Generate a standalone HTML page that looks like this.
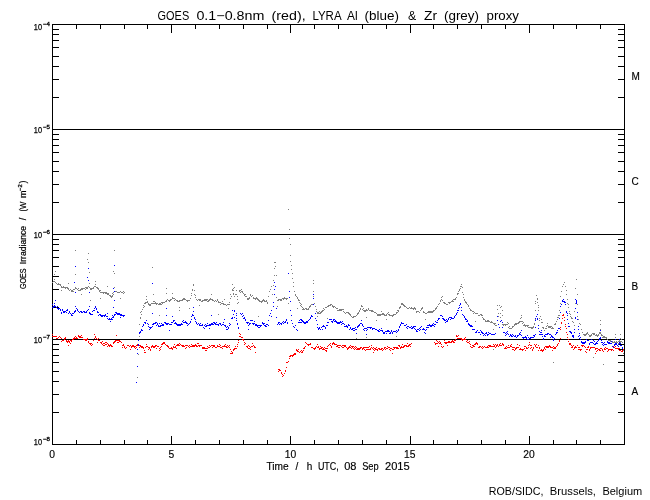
<!DOCTYPE html>
<html><head><meta charset="utf-8"><title>GOES / LYRA proxy</title>
<style>html,body{margin:0;padding:0;background:#fff;overflow:hidden}svg{display:block}</style></head>
<body>
<svg width="650" height="500" viewBox="0 0 650 500">
<rect width="650" height="500" fill="#fff"/>
<g stroke="#000" stroke-width="1" shape-rendering="crispEdges" fill="none">
<rect x="52.5" y="24.5" width="572" height="420"/>
<line x1="52" y1="129.5" x2="625" y2="129.5"/>
<line x1="52" y1="234.5" x2="625" y2="234.5"/>
<line x1="52" y1="339.5" x2="625" y2="339.5"/>
<line x1="52.5" y1="444" x2="52.5" y2="436"/>
<line x1="52.5" y1="24" x2="52.5" y2="33"/>
<line x1="76.5" y1="444" x2="76.5" y2="440"/>
<line x1="76.5" y1="24" x2="76.5" y2="29"/>
<line x1="100.5" y1="444" x2="100.5" y2="440"/>
<line x1="100.5" y1="24" x2="100.5" y2="29"/>
<line x1="124.5" y1="444" x2="124.5" y2="440"/>
<line x1="124.5" y1="24" x2="124.5" y2="29"/>
<line x1="147.5" y1="444" x2="147.5" y2="440"/>
<line x1="147.5" y1="24" x2="147.5" y2="29"/>
<line x1="171.5" y1="444" x2="171.5" y2="436"/>
<line x1="171.5" y1="24" x2="171.5" y2="33"/>
<line x1="195.5" y1="444" x2="195.5" y2="440"/>
<line x1="195.5" y1="24" x2="195.5" y2="29"/>
<line x1="219.5" y1="444" x2="219.5" y2="440"/>
<line x1="219.5" y1="24" x2="219.5" y2="29"/>
<line x1="243.5" y1="444" x2="243.5" y2="440"/>
<line x1="243.5" y1="24" x2="243.5" y2="29"/>
<line x1="267.5" y1="444" x2="267.5" y2="440"/>
<line x1="267.5" y1="24" x2="267.5" y2="29"/>
<line x1="290.5" y1="444" x2="290.5" y2="436"/>
<line x1="290.5" y1="24" x2="290.5" y2="33"/>
<line x1="314.5" y1="444" x2="314.5" y2="440"/>
<line x1="314.5" y1="24" x2="314.5" y2="29"/>
<line x1="338.5" y1="444" x2="338.5" y2="440"/>
<line x1="338.5" y1="24" x2="338.5" y2="29"/>
<line x1="362.5" y1="444" x2="362.5" y2="440"/>
<line x1="362.5" y1="24" x2="362.5" y2="29"/>
<line x1="386.5" y1="444" x2="386.5" y2="440"/>
<line x1="386.5" y1="24" x2="386.5" y2="29"/>
<line x1="410.5" y1="444" x2="410.5" y2="436"/>
<line x1="410.5" y1="24" x2="410.5" y2="33"/>
<line x1="433.5" y1="444" x2="433.5" y2="440"/>
<line x1="433.5" y1="24" x2="433.5" y2="29"/>
<line x1="457.5" y1="444" x2="457.5" y2="440"/>
<line x1="457.5" y1="24" x2="457.5" y2="29"/>
<line x1="481.5" y1="444" x2="481.5" y2="440"/>
<line x1="481.5" y1="24" x2="481.5" y2="29"/>
<line x1="505.5" y1="444" x2="505.5" y2="440"/>
<line x1="505.5" y1="24" x2="505.5" y2="29"/>
<line x1="529.5" y1="444" x2="529.5" y2="436"/>
<line x1="529.5" y1="24" x2="529.5" y2="33"/>
<line x1="553.5" y1="444" x2="553.5" y2="440"/>
<line x1="553.5" y1="24" x2="553.5" y2="29"/>
<line x1="576.5" y1="444" x2="576.5" y2="440"/>
<line x1="576.5" y1="24" x2="576.5" y2="29"/>
<line x1="600.5" y1="444" x2="600.5" y2="440"/>
<line x1="600.5" y1="24" x2="600.5" y2="29"/>
<line x1="624.5" y1="444" x2="624.5" y2="440"/>
<line x1="624.5" y1="24" x2="624.5" y2="29"/>
<line x1="52" y1="97.5" x2="59" y2="97.5"/>
<line x1="618" y1="97.5" x2="625" y2="97.5"/>
<line x1="52" y1="79.5" x2="59" y2="79.5"/>
<line x1="618" y1="79.5" x2="625" y2="79.5"/>
<line x1="52" y1="66.5" x2="59" y2="66.5"/>
<line x1="618" y1="66.5" x2="625" y2="66.5"/>
<line x1="52" y1="56.5" x2="59" y2="56.5"/>
<line x1="618" y1="56.5" x2="625" y2="56.5"/>
<line x1="52" y1="47.5" x2="59" y2="47.5"/>
<line x1="618" y1="47.5" x2="625" y2="47.5"/>
<line x1="52" y1="40.5" x2="59" y2="40.5"/>
<line x1="618" y1="40.5" x2="625" y2="40.5"/>
<line x1="52" y1="34.5" x2="59" y2="34.5"/>
<line x1="618" y1="34.5" x2="625" y2="34.5"/>
<line x1="52" y1="29.5" x2="59" y2="29.5"/>
<line x1="618" y1="29.5" x2="625" y2="29.5"/>
<line x1="52" y1="202.5" x2="59" y2="202.5"/>
<line x1="618" y1="202.5" x2="625" y2="202.5"/>
<line x1="52" y1="184.5" x2="59" y2="184.5"/>
<line x1="618" y1="184.5" x2="625" y2="184.5"/>
<line x1="52" y1="171.5" x2="59" y2="171.5"/>
<line x1="618" y1="171.5" x2="625" y2="171.5"/>
<line x1="52" y1="161.5" x2="59" y2="161.5"/>
<line x1="618" y1="161.5" x2="625" y2="161.5"/>
<line x1="52" y1="152.5" x2="59" y2="152.5"/>
<line x1="618" y1="152.5" x2="625" y2="152.5"/>
<line x1="52" y1="145.5" x2="59" y2="145.5"/>
<line x1="618" y1="145.5" x2="625" y2="145.5"/>
<line x1="52" y1="139.5" x2="59" y2="139.5"/>
<line x1="618" y1="139.5" x2="625" y2="139.5"/>
<line x1="52" y1="134.5" x2="59" y2="134.5"/>
<line x1="618" y1="134.5" x2="625" y2="134.5"/>
<line x1="52" y1="307.5" x2="59" y2="307.5"/>
<line x1="618" y1="307.5" x2="625" y2="307.5"/>
<line x1="52" y1="289.5" x2="59" y2="289.5"/>
<line x1="618" y1="289.5" x2="625" y2="289.5"/>
<line x1="52" y1="276.5" x2="59" y2="276.5"/>
<line x1="618" y1="276.5" x2="625" y2="276.5"/>
<line x1="52" y1="266.5" x2="59" y2="266.5"/>
<line x1="618" y1="266.5" x2="625" y2="266.5"/>
<line x1="52" y1="257.5" x2="59" y2="257.5"/>
<line x1="618" y1="257.5" x2="625" y2="257.5"/>
<line x1="52" y1="250.5" x2="59" y2="250.5"/>
<line x1="618" y1="250.5" x2="625" y2="250.5"/>
<line x1="52" y1="244.5" x2="59" y2="244.5"/>
<line x1="618" y1="244.5" x2="625" y2="244.5"/>
<line x1="52" y1="239.5" x2="59" y2="239.5"/>
<line x1="618" y1="239.5" x2="625" y2="239.5"/>
<line x1="52" y1="412.5" x2="59" y2="412.5"/>
<line x1="618" y1="412.5" x2="625" y2="412.5"/>
<line x1="52" y1="394.5" x2="59" y2="394.5"/>
<line x1="618" y1="394.5" x2="625" y2="394.5"/>
<line x1="52" y1="381.5" x2="59" y2="381.5"/>
<line x1="618" y1="381.5" x2="625" y2="381.5"/>
<line x1="52" y1="371.5" x2="59" y2="371.5"/>
<line x1="618" y1="371.5" x2="625" y2="371.5"/>
<line x1="52" y1="362.5" x2="59" y2="362.5"/>
<line x1="618" y1="362.5" x2="625" y2="362.5"/>
<line x1="52" y1="355.5" x2="59" y2="355.5"/>
<line x1="618" y1="355.5" x2="625" y2="355.5"/>
<line x1="52" y1="349.5" x2="59" y2="349.5"/>
<line x1="618" y1="349.5" x2="625" y2="349.5"/>
<line x1="52" y1="344.5" x2="59" y2="344.5"/>
<line x1="618" y1="344.5" x2="625" y2="344.5"/>
</g>
<g shape-rendering="crispEdges" stroke="none">
<path fill="#7f7f7f" d="M288 209h1v1h-1zM289 229h1v1h-1zM289 238h1v1h-1zM290 244h1v1h-1zM75 250h1v1h-1zM114 250h1v1h-1zM88 253h1v1h-1zM290 255h1v1h-1zM87 259h1v1h-1zM290 261h1v1h-1zM88 262h1v1h-1zM274 262h2v1h-2zM291 265h1v1h-1zM275 266h1v1h-1zM152 267h1v1h-1zM274 268h1v1h-1zM291 269h1v1h-1zM55 271h1v1h-1zM113 271h1v1h-1zM89 272h1v1h-1zM114 273h1v1h-1zM292 273h1v1h-1zM54 274h1v1h-1zM75 274h1v1h-1zM274 275h1v1h-1zM276 275h1v1h-1zM292 278h1v1h-1zM54 279h1v1h-1zM576 279h1v1h-1zM273 280h1v1h-1zM313 280h1v1h-1zM53 281h2v1h-2zM95 281h1v1h-1zM52 282h1v1h-1zM55 282h1v1h-1zM293 282h1v1h-1zM564 282h1v1h-1zM56 283h1v1h-1zM58 283h1v1h-1zM68 283h1v1h-1zM89 283h1v1h-1zM313 283h1v1h-1zM57 284h4v1h-4zM95 284h1v1h-1zM193 284h1v1h-1zM232 284h1v1h-1zM461 284h1v1h-1zM563 284h1v1h-1zM60 285h1v1h-1zM193 285h1v1h-1zM273 285h1v1h-1zM61 286h1v1h-1zM63 286h1v1h-1zM88 286h1v1h-1zM94 286h2v1h-2zM107 286h1v1h-1zM271 286h1v1h-1zM293 286h1v1h-1zM460 286h2v1h-2zM562 286h1v1h-1zM565 286h1v1h-1zM61 287h7v1h-7zM75 287h1v1h-1zM85 287h3v1h-3zM89 287h1v1h-1zM93 287h1v1h-1zM96 287h2v1h-2zM114 287h1v1h-1zM234 287h1v1h-1zM462 287h1v1h-1zM65 288h1v1h-1zM67 288h2v1h-2zM75 288h2v1h-2zM78 288h1v1h-1zM81 288h4v1h-4zM86 288h2v1h-2zM90 288h4v1h-4zM97 288h2v1h-2zM166 288h1v1h-1zM233 288h1v1h-1zM460 288h1v1h-1zM575 288h1v1h-1zM68 289h1v1h-1zM70 289h1v1h-1zM73 289h2v1h-2zM77 289h1v1h-1zM80 289h3v1h-3zM85 289h1v1h-1zM90 289h2v1h-2zM98 289h1v1h-1zM192 289h1v1h-1zM232 289h1v1h-1zM241 289h1v1h-1zM270 289h1v1h-1zM459 289h1v1h-1zM61 290h1v1h-1zM69 290h1v1h-1zM71 290h2v1h-2zM78 290h3v1h-3zM99 290h2v1h-2zM192 290h1v1h-1zM194 290h1v1h-1zM232 290h2v1h-2zM236 290h1v1h-1zM239 290h2v1h-2zM459 290h1v1h-1zM566 290h1v1h-1zM71 291h3v1h-3zM99 291h1v1h-1zM114 291h3v1h-3zM120 291h1v1h-1zM123 291h1v1h-1zM239 291h1v1h-1zM241 291h2v1h-2zM269 291h1v1h-1zM294 291h1v1h-1zM313 291h1v1h-1zM458 291h1v1h-1zM561 291h1v1h-1zM100 292h7v1h-7zM113 292h1v1h-1zM117 292h3v1h-3zM121 292h2v1h-2zM124 292h1v1h-1zM240 292h1v1h-1zM242 292h1v1h-1zM462 292h1v1h-1zM103 293h1v1h-1zM105 293h4v1h-4zM112 293h1v1h-1zM123 293h1v1h-1zM166 293h1v1h-1zM172 293h1v1h-1zM191 293h1v1h-1zM233 293h1v1h-1zM243 293h1v1h-1zM457 293h2v1h-2zM81 294h1v1h-1zM107 294h2v1h-2zM113 294h1v1h-1zM153 294h1v1h-1zM194 294h1v1h-1zM211 294h1v1h-1zM230 294h1v1h-1zM233 294h1v1h-1zM235 294h2v1h-2zM244 294h2v1h-2zM250 294h1v1h-1zM272 294h1v1h-1zM295 294h1v1h-1zM457 294h1v1h-1zM463 294h1v1h-1zM566 294h1v1h-1zM577 294h1v1h-1zM109 295h2v1h-2zM112 295h1v1h-1zM191 295h1v1h-1zM195 295h1v1h-1zM244 295h1v1h-1zM250 295h1v1h-1zM252 295h1v1h-1zM295 295h1v1h-1zM536 295h1v1h-1zM110 296h3v1h-3zM146 296h1v1h-1zM231 296h1v1h-1zM234 296h1v1h-1zM237 296h1v1h-1zM245 296h2v1h-2zM251 296h1v1h-1zM268 296h1v1h-1zM296 296h1v1h-1zM313 296h1v1h-1zM442 296h1v1h-1zM560 296h1v1h-1zM111 297h1v1h-1zM172 297h1v1h-1zM195 297h1v1h-1zM249 297h1v1h-1zM253 297h1v1h-1zM256 297h1v1h-1zM276 297h1v1h-1zM284 297h1v1h-1zM297 297h1v1h-1zM441 297h1v1h-1zM456 297h1v1h-1zM463 297h1v1h-1zM100 298h1v1h-1zM120 298h1v1h-1zM172 298h3v1h-3zM183 298h2v1h-2zM190 298h1v1h-1zM210 298h1v1h-1zM230 298h1v1h-1zM247 298h3v1h-3zM253 298h5v1h-5zM282 298h6v1h-6zM297 298h1v1h-1zM455 298h1v1h-1zM537 298h1v1h-1zM146 299h1v1h-1zM167 299h1v1h-1zM170 299h2v1h-2zM175 299h1v1h-1zM182 299h4v1h-4zM196 299h1v1h-1zM198 299h3v1h-3zM204 299h4v1h-4zM209 299h4v1h-4zM217 299h1v1h-1zM224 299h1v1h-1zM237 299h1v1h-1zM247 299h2v1h-2zM255 299h1v1h-1zM257 299h2v1h-2zM263 299h1v1h-1zM278 299h4v1h-4zM283 299h1v1h-1zM286 299h1v1h-1zM298 299h1v1h-1zM441 299h1v1h-1zM453 299h3v1h-3zM464 299h1v1h-1zM537 299h1v1h-1zM567 299h1v1h-1zM90 300h1v1h-1zM166 300h1v1h-1zM168 300h3v1h-3zM174 300h1v1h-1zM176 300h2v1h-2zM179 300h4v1h-4zM186 300h4v1h-4zM197 300h1v1h-1zM199 300h2v1h-2zM202 300h5v1h-5zM208 300h2v1h-2zM212 300h2v1h-2zM215 300h1v1h-1zM217 300h1v1h-1zM258 300h2v1h-2zM262 300h3v1h-3zM266 300h1v1h-1zM277 300h2v1h-2zM280 300h2v1h-2zM298 300h2v1h-2zM440 300h1v1h-1zM442 300h1v1h-1zM452 300h1v1h-1zM464 300h1v1h-1zM147 301h1v1h-1zM153 301h2v1h-2zM165 301h2v1h-2zM169 301h1v1h-1zM177 301h3v1h-3zM187 301h1v1h-1zM201 301h2v1h-2zM207 301h2v1h-2zM214 301h1v1h-1zM216 301h1v1h-1zM218 301h1v1h-1zM222 301h1v1h-1zM259 301h4v1h-4zM264 301h3v1h-3zM440 301h1v1h-1zM451 301h3v1h-3zM465 301h1v1h-1zM535 301h1v1h-1zM145 302h3v1h-3zM155 302h1v1h-1zM161 302h4v1h-4zM218 302h3v1h-3zM229 302h1v1h-1zM238 302h1v1h-1zM261 302h1v1h-1zM267 302h1v1h-1zM299 302h1v1h-1zM443 302h2v1h-2zM448 302h3v1h-3zM465 302h2v1h-2zM537 302h1v1h-1zM144 303h2v1h-2zM148 303h1v1h-1zM151 303h7v1h-7zM159 303h2v1h-2zM162 303h1v1h-1zM221 303h3v1h-3zM237 303h1v1h-1zM267 303h1v1h-1zM288 303h1v1h-1zM300 303h1v1h-1zM314 303h1v1h-1zM401 303h2v1h-2zM439 303h1v1h-1zM444 303h2v1h-2zM449 303h1v1h-1zM466 303h1v1h-1zM535 303h1v1h-1zM560 303h1v1h-1zM567 303h1v1h-1zM575 303h1v1h-1zM148 304h3v1h-3zM156 304h1v1h-1zM158 304h4v1h-4zM220 304h1v1h-1zM223 304h3v1h-3zM227 304h3v1h-3zM301 304h1v1h-1zM311 304h2v1h-2zM330 304h2v1h-2zM401 304h3v1h-3zM438 304h1v1h-1zM446 304h2v1h-2zM467 304h1v1h-1zM568 304h1v1h-1zM577 304h1v1h-1zM143 305h1v1h-1zM149 305h2v1h-2zM199 305h1v1h-1zM226 305h1v1h-1zM300 305h1v1h-1zM310 305h1v1h-1zM328 305h3v1h-3zM332 305h1v1h-1zM361 305h1v1h-1zM403 305h2v1h-2zM468 305h1v1h-1zM497 305h1v1h-1zM499 305h1v1h-1zM538 305h1v1h-1zM144 306h1v1h-1zM277 306h1v1h-1zM301 306h1v1h-1zM309 306h2v1h-2zM315 306h1v1h-1zM327 306h2v1h-2zM332 306h3v1h-3zM361 306h2v1h-2zM400 306h1v1h-1zM404 306h2v1h-2zM437 306h1v1h-1zM468 306h1v1h-1zM501 306h1v1h-1zM143 307h1v1h-1zM179 307h1v1h-1zM302 307h1v1h-1zM309 307h1v1h-1zM325 307h2v1h-2zM333 307h1v1h-1zM335 307h1v1h-1zM399 307h2v1h-2zM406 307h1v1h-1zM409 307h1v1h-1zM411 307h1v1h-1zM414 307h1v1h-1zM422 307h1v1h-1zM436 307h1v1h-1zM500 307h1v1h-1zM538 307h1v1h-1zM568 307h1v1h-1zM189 308h1v1h-1zM228 308h1v1h-1zM297 308h1v1h-1zM303 308h1v1h-1zM305 308h2v1h-2zM308 308h1v1h-1zM323 308h1v1h-1zM336 308h2v1h-2zM360 308h1v1h-1zM363 308h1v1h-1zM368 308h1v1h-1zM399 308h1v1h-1zM407 308h2v1h-2zM410 308h6v1h-6zM421 308h2v1h-2zM435 308h2v1h-2zM469 308h1v1h-1zM142 309h1v1h-1zM302 309h3v1h-3zM306 309h3v1h-3zM316 309h1v1h-1zM324 309h1v1h-1zM339 309h5v1h-5zM360 309h1v1h-1zM362 309h1v1h-1zM366 309h1v1h-1zM368 309h1v1h-1zM413 309h1v1h-1zM415 309h1v1h-1zM421 309h1v1h-1zM435 309h1v1h-1zM470 309h1v1h-1zM497 309h1v1h-1zM179 310h1v1h-1zM322 310h2v1h-2zM337 310h5v1h-5zM359 310h1v1h-1zM363 310h5v1h-5zM369 310h4v1h-4zM397 310h2v1h-2zM420 310h1v1h-1zM433 310h2v1h-2zM470 310h2v1h-2zM502 310h1v1h-1zM535 310h1v1h-1zM538 310h1v1h-1zM559 310h1v1h-1zM141 311h1v1h-1zM316 311h1v1h-1zM319 311h1v1h-1zM321 311h2v1h-2zM343 311h1v1h-1zM359 311h1v1h-1zM364 311h2v1h-2zM371 311h3v1h-3zM381 311h1v1h-1zM398 311h1v1h-1zM416 311h3v1h-3zM423 311h1v1h-1zM428 311h6v1h-6zM472 311h2v1h-2zM569 311h1v1h-1zM574 311h1v1h-1zM140 312h1v1h-1zM317 312h2v1h-2zM320 312h2v1h-2zM344 312h1v1h-1zM346 312h3v1h-3zM358 312h1v1h-1zM374 312h2v1h-2zM388 312h1v1h-1zM396 312h2v1h-2zM416 312h1v1h-1zM419 312h1v1h-1zM423 312h2v1h-2zM427 312h6v1h-6zM474 312h1v1h-1zM317 313h4v1h-4zM345 313h1v1h-1zM348 313h2v1h-2zM357 313h2v1h-2zM376 313h1v1h-1zM382 313h2v1h-2zM387 313h1v1h-1zM396 313h1v1h-1zM425 313h2v1h-2zM473 313h1v1h-1zM475 313h3v1h-3zM498 313h1v1h-1zM500 313h1v1h-1zM569 313h1v1h-1zM141 314h1v1h-1zM218 314h1v1h-1zM349 314h2v1h-2zM357 314h1v1h-1zM377 314h8v1h-8zM386 314h1v1h-1zM388 314h2v1h-2zM393 314h3v1h-3zM480 314h2v1h-2zM570 314h1v1h-1zM159 315h1v1h-1zM350 315h1v1h-1zM356 315h1v1h-1zM377 315h4v1h-4zM384 315h3v1h-3zM389 315h5v1h-5zM478 315h2v1h-2zM481 315h2v1h-2zM502 315h1v1h-1zM521 315h1v1h-1zM558 315h2v1h-2zM258 316h1v1h-1zM317 316h1v1h-1zM351 316h1v1h-1zM353 316h3v1h-3zM392 316h1v1h-1zM498 316h1v1h-1zM540 316h1v1h-1zM570 316h1v1h-1zM577 316h1v1h-1zM140 317h1v1h-1zM352 317h2v1h-2zM366 317h1v1h-1zM482 317h1v1h-1zM500 317h1v1h-1zM521 317h1v1h-1zM557 317h2v1h-2zM571 317h1v1h-1zM140 318h1v1h-1zM327 318h1v1h-1zM483 318h1v1h-1zM520 318h1v1h-1zM539 318h1v1h-1zM571 318h2v1h-2zM386 319h1v1h-1zM425 319h1v1h-1zM483 319h2v1h-2zM535 319h1v1h-1zM541 319h1v1h-1zM557 319h1v1h-1zM578 319h1v1h-1zM376 320h1v1h-1zM485 320h1v1h-1zM487 320h2v1h-2zM539 320h1v1h-1zM600 320h1v1h-1zM475 321h1v1h-1zM485 321h5v1h-5zM491 321h1v1h-1zM519 321h4v1h-4zM556 321h1v1h-1zM572 321h1v1h-1zM490 322h3v1h-3zM507 322h1v1h-1zM518 322h2v1h-2zM523 322h1v1h-1zM541 322h2v1h-2zM573 322h1v1h-1zM493 323h3v1h-3zM508 323h1v1h-1zM515 323h4v1h-4zM522 323h1v1h-1zM534 323h1v1h-1zM547 323h1v1h-1zM555 323h1v1h-1zM579 323h1v1h-1zM139 324h1v1h-1zM494 324h1v1h-1zM502 324h6v1h-6zM514 324h3v1h-3zM524 324h1v1h-1zM534 324h1v1h-1zM554 324h2v1h-2zM580 324h1v1h-1zM600 324h1v1h-1zM495 325h2v1h-2zM503 325h1v1h-1zM505 325h1v1h-1zM514 325h1v1h-1zM523 325h6v1h-6zM547 325h1v1h-1zM574 325h1v1h-1zM509 326h1v1h-1zM512 326h2v1h-2zM525 326h1v1h-1zM527 326h1v1h-1zM533 326h1v1h-1zM546 326h1v1h-1zM548 326h4v1h-4zM508 327h1v1h-1zM512 327h1v1h-1zM528 327h6v1h-6zM542 327h2v1h-2zM548 327h3v1h-3zM552 327h1v1h-1zM509 328h3v1h-3zM531 328h2v1h-2zM543 328h1v1h-1zM545 328h2v1h-2zM551 328h3v1h-3zM493 329h1v1h-1zM581 329h1v1h-1zM600 329h1v1h-1zM544 330h1v1h-1zM582 332h1v1h-1zM587 332h1v1h-1zM599 332h2v1h-2zM586 333h2v1h-2zM592 333h3v1h-3zM599 333h2v1h-2zM583 334h4v1h-4zM588 334h1v1h-1zM591 334h1v1h-1zM593 334h2v1h-2zM596 334h1v1h-1zM598 334h1v1h-1zM601 334h1v1h-1zM615 334h1v1h-1zM620 334h1v1h-1zM584 335h2v1h-2zM589 335h3v1h-3zM595 335h4v1h-4zM601 335h2v1h-2zM139 336h1v1h-1zM396 336h1v1h-1zM589 336h2v1h-2zM597 336h1v1h-1zM603 336h2v1h-2zM366 337h1v1h-1zM602 337h5v1h-5zM615 337h1v1h-1zM356 338h1v1h-1zM606 338h1v1h-1zM620 338h1v1h-1zM607 339h1v1h-1zM621 339h1v1h-1zM608 340h3v1h-3zM619 340h1v1h-1zM610 341h3v1h-3zM614 341h1v1h-1zM616 341h1v1h-1zM618 341h4v1h-4zM612 342h6v1h-6zM620 342h1v1h-1zM622 342h1v1h-1zM618 343h1v1h-1zM622 348h1v1h-1zM493 349h1v1h-1zM623 350h1v1h-1zM623 353h1v1h-1zM138 354h1v1h-1zM593 357h1v1h-1zM553 362h1v1h-1zM603 364h1v1h-1zM137 377h1v1h-1z"/>
<path fill="#ff0000" d="M563 314h1v1h-1zM562 315h2v1h-2zM564 317h1v1h-1zM562 318h1v1h-1zM564 320h1v1h-1zM561 322h1v1h-1zM561 323h1v1h-1zM565 324h1v1h-1zM565 326h1v1h-1zM560 327h1v1h-1zM566 328h1v1h-1zM560 329h1v1h-1zM566 332h1v1h-1zM239 333h1v1h-1zM52 334h1v1h-1zM94 334h1v1h-1zM240 334h1v1h-1zM567 334h1v1h-1zM78 335h1v1h-1zM81 335h1v1h-1zM116 335h1v1h-1zM456 335h1v1h-1zM458 335h1v1h-1zM52 336h5v1h-5zM59 336h1v1h-1zM75 336h1v1h-1zM78 336h3v1h-3zM95 336h1v1h-1zM239 336h2v1h-2zM456 336h2v1h-2zM58 337h1v1h-1zM60 337h1v1h-1zM65 337h1v1h-1zM74 337h1v1h-1zM76 337h1v1h-1zM79 337h4v1h-4zM95 337h1v1h-1zM241 337h2v1h-2zM465 337h1v1h-1zM567 337h1v1h-1zM56 338h2v1h-2zM61 338h1v1h-1zM64 338h2v1h-2zM73 338h5v1h-5zM87 338h1v1h-1zM94 338h1v1h-1zM96 338h1v1h-1zM98 338h1v1h-1zM457 338h5v1h-5zM464 338h1v1h-1zM560 338h1v1h-1zM64 339h1v1h-1zM72 339h2v1h-2zM83 339h5v1h-5zM97 339h1v1h-1zM242 339h2v1h-2zM455 339h1v1h-1zM461 339h5v1h-5zM568 339h1v1h-1zM62 340h2v1h-2zM66 340h1v1h-1zM68 340h1v1h-1zM70 340h2v1h-2zM85 340h2v1h-2zM93 340h1v1h-1zM98 340h2v1h-2zM115 340h5v1h-5zM238 340h1v1h-1zM243 340h1v1h-1zM436 340h1v1h-1zM444 340h1v1h-1zM452 340h1v1h-1zM454 340h2v1h-2zM462 340h1v1h-1zM467 340h1v1h-1zM559 340h1v1h-1zM61 341h1v1h-1zM66 341h4v1h-4zM71 341h1v1h-1zM88 341h1v1h-1zM102 341h1v1h-1zM114 341h2v1h-2zM119 341h2v1h-2zM437 341h1v1h-1zM439 341h1v1h-1zM448 341h2v1h-2zM451 341h3v1h-3zM466 341h1v1h-1zM469 341h1v1h-1zM559 341h1v1h-1zM568 341h1v1h-1zM67 342h1v1h-1zM69 342h1v1h-1zM88 342h1v1h-1zM97 342h1v1h-1zM100 342h2v1h-2zM105 342h2v1h-2zM113 342h2v1h-2zM117 342h2v1h-2zM121 342h1v1h-1zM163 342h2v1h-2zM238 342h1v1h-1zM244 342h1v1h-1zM305 342h1v1h-1zM333 342h1v1h-1zM434 342h1v1h-1zM438 342h1v1h-1zM440 342h1v1h-1zM444 342h8v1h-8zM453 342h2v1h-2zM467 342h2v1h-2zM476 342h1v1h-1zM529 342h1v1h-1zM70 343h1v1h-1zM89 343h3v1h-3zM101 343h1v1h-1zM103 343h2v1h-2zM107 343h1v1h-1zM113 343h1v1h-1zM162 343h3v1h-3zM179 343h1v1h-1zM197 343h2v1h-2zM245 343h1v1h-1zM252 343h1v1h-1zM306 343h1v1h-1zM310 343h1v1h-1zM330 343h1v1h-1zM332 343h3v1h-3zM407 343h1v1h-1zM411 343h1v1h-1zM435 343h3v1h-3zM439 343h2v1h-2zM445 343h2v1h-2zM469 343h1v1h-1zM475 343h3v1h-3zM500 343h1v1h-1zM502 343h1v1h-1zM558 343h1v1h-1zM569 343h2v1h-2zM90 344h1v1h-1zM92 344h1v1h-1zM102 344h1v1h-1zM105 344h2v1h-2zM108 344h1v1h-1zM110 344h1v1h-1zM123 344h1v1h-1zM137 344h1v1h-1zM146 344h1v1h-1zM161 344h2v1h-2zM165 344h1v1h-1zM174 344h1v1h-1zM177 344h2v1h-2zM180 344h1v1h-1zM191 344h1v1h-1zM195 344h1v1h-1zM219 344h1v1h-1zM225 344h1v1h-1zM237 344h1v1h-1zM244 344h1v1h-1zM307 344h4v1h-4zM317 344h1v1h-1zM329 344h1v1h-1zM332 344h1v1h-1zM334 344h3v1h-3zM402 344h1v1h-1zM409 344h2v1h-2zM435 344h1v1h-1zM441 344h1v1h-1zM470 344h1v1h-1zM474 344h2v1h-2zM477 344h1v1h-1zM493 344h1v1h-1zM495 344h1v1h-1zM497 344h1v1h-1zM499 344h1v1h-1zM502 344h2v1h-2zM511 344h1v1h-1zM517 344h1v1h-1zM529 344h1v1h-1zM534 344h1v1h-1zM536 344h1v1h-1zM557 344h1v1h-1zM569 344h2v1h-2zM68 345h1v1h-1zM91 345h1v1h-1zM103 345h2v1h-2zM108 345h4v1h-4zM122 345h2v1h-2zM127 345h2v1h-2zM130 345h1v1h-1zM132 345h2v1h-2zM136 345h5v1h-5zM152 345h1v1h-1zM155 345h2v1h-2zM166 345h2v1h-2zM176 345h4v1h-4zM181 345h3v1h-3zM185 345h3v1h-3zM189 345h1v1h-1zM192 345h5v1h-5zM198 345h4v1h-4zM209 345h1v1h-1zM211 345h4v1h-4zM217 345h1v1h-1zM220 345h1v1h-1zM224 345h1v1h-1zM227 345h1v1h-1zM229 345h1v1h-1zM248 345h1v1h-1zM253 345h1v1h-1zM308 345h1v1h-1zM328 345h1v1h-1zM330 345h1v1h-1zM337 345h4v1h-4zM342 345h4v1h-4zM350 345h1v1h-1zM371 345h1v1h-1zM398 345h2v1h-2zM404 345h3v1h-3zM408 345h2v1h-2zM447 345h1v1h-1zM472 345h2v1h-2zM488 345h3v1h-3zM494 345h1v1h-1zM496 345h2v1h-2zM499 345h3v1h-3zM503 345h1v1h-1zM508 345h1v1h-1zM510 345h1v1h-1zM519 345h1v1h-1zM528 345h1v1h-1zM530 345h2v1h-2zM535 345h1v1h-1zM538 345h1v1h-1zM549 345h1v1h-1zM557 345h1v1h-1zM571 345h1v1h-1zM573 345h1v1h-1zM577 345h1v1h-1zM581 345h3v1h-3zM107 346h1v1h-1zM109 346h1v1h-1zM111 346h2v1h-2zM124 346h1v1h-1zM129 346h1v1h-1zM131 346h5v1h-5zM140 346h3v1h-3zM146 346h2v1h-2zM151 346h5v1h-5zM157 346h2v1h-2zM161 346h1v1h-1zM167 346h2v1h-2zM173 346h1v1h-1zM175 346h1v1h-1zM182 346h3v1h-3zM188 346h1v1h-1zM190 346h5v1h-5zM196 346h2v1h-2zM199 346h1v1h-1zM207 346h1v1h-1zM210 346h1v1h-1zM213 346h2v1h-2zM217 346h3v1h-3zM222 346h5v1h-5zM228 346h1v1h-1zM235 346h1v1h-1zM237 346h1v1h-1zM246 346h2v1h-2zM249 346h1v1h-1zM251 346h2v1h-2zM254 346h1v1h-1zM305 346h1v1h-1zM316 346h1v1h-1zM318 346h1v1h-1zM320 346h1v1h-1zM327 346h1v1h-1zM331 346h1v1h-1zM336 346h2v1h-2zM341 346h1v1h-1zM344 346h2v1h-2zM349 346h1v1h-1zM351 346h3v1h-3zM355 346h1v1h-1zM369 346h1v1h-1zM387 346h1v1h-1zM399 346h1v1h-1zM401 346h1v1h-1zM403 346h2v1h-2zM406 346h3v1h-3zM410 346h1v1h-1zM438 346h1v1h-1zM441 346h1v1h-1zM443 346h1v1h-1zM470 346h1v1h-1zM473 346h2v1h-2zM479 346h2v1h-2zM482 346h1v1h-1zM484 346h1v1h-1zM487 346h1v1h-1zM489 346h6v1h-6zM496 346h1v1h-1zM498 346h1v1h-1zM506 346h1v1h-1zM510 346h2v1h-2zM524 346h2v1h-2zM535 346h1v1h-1zM545 346h6v1h-6zM553 346h1v1h-1zM556 346h1v1h-1zM572 346h1v1h-1zM575 346h1v1h-1zM582 346h1v1h-1zM584 346h1v1h-1zM588 346h1v1h-1zM613 346h1v1h-1zM615 346h1v1h-1zM122 347h1v1h-1zM124 347h1v1h-1zM126 347h1v1h-1zM131 347h1v1h-1zM134 347h1v1h-1zM136 347h1v1h-1zM139 347h1v1h-1zM141 347h3v1h-3zM145 347h1v1h-1zM148 347h2v1h-2zM151 347h1v1h-1zM153 347h2v1h-2zM160 347h1v1h-1zM168 347h1v1h-1zM171 347h1v1h-1zM173 347h3v1h-3zM186 347h1v1h-1zM189 347h1v1h-1zM202 347h3v1h-3zM208 347h2v1h-2zM212 347h1v1h-1zM215 347h2v1h-2zM220 347h2v1h-2zM226 347h2v1h-2zM229 347h1v1h-1zM247 347h1v1h-1zM250 347h1v1h-1zM254 347h2v1h-2zM304 347h1v1h-1zM311 347h2v1h-2zM315 347h1v1h-1zM317 347h2v1h-2zM321 347h2v1h-2zM324 347h1v1h-1zM331 347h1v1h-1zM338 347h2v1h-2zM342 347h2v1h-2zM346 347h1v1h-1zM348 347h3v1h-3zM352 347h1v1h-1zM354 347h1v1h-1zM356 347h1v1h-1zM360 347h2v1h-2zM363 347h6v1h-6zM371 347h1v1h-1zM373 347h1v1h-1zM376 347h1v1h-1zM384 347h2v1h-2zM388 347h2v1h-2zM393 347h5v1h-5zM400 347h4v1h-4zM442 347h1v1h-1zM471 347h2v1h-2zM478 347h2v1h-2zM481 347h1v1h-1zM483 347h1v1h-1zM485 347h4v1h-4zM495 347h1v1h-1zM505 347h1v1h-1zM507 347h3v1h-3zM512 347h3v1h-3zM516 347h3v1h-3zM526 347h1v1h-1zM528 347h1v1h-1zM531 347h1v1h-1zM533 347h1v1h-1zM536 347h2v1h-2zM539 347h1v1h-1zM544 347h1v1h-1zM546 347h3v1h-3zM550 347h3v1h-3zM554 347h2v1h-2zM571 347h2v1h-2zM574 347h3v1h-3zM578 347h2v1h-2zM585 347h1v1h-1zM587 347h2v1h-2zM590 347h5v1h-5zM605 347h1v1h-1zM614 347h1v1h-1zM125 348h1v1h-1zM135 348h1v1h-1zM143 348h1v1h-1zM149 348h1v1h-1zM156 348h1v1h-1zM159 348h1v1h-1zM169 348h4v1h-4zM176 348h1v1h-1zM185 348h1v1h-1zM202 348h6v1h-6zM222 348h1v1h-1zM234 348h3v1h-3zM248 348h2v1h-2zM303 348h2v1h-2zM313 348h3v1h-3zM319 348h3v1h-3zM323 348h1v1h-1zM325 348h3v1h-3zM347 348h2v1h-2zM351 348h1v1h-1zM353 348h1v1h-1zM355 348h1v1h-1zM357 348h4v1h-4zM362 348h2v1h-2zM370 348h1v1h-1zM372 348h1v1h-1zM374 348h2v1h-2zM378 348h2v1h-2zM381 348h2v1h-2zM384 348h1v1h-1zM386 348h2v1h-2zM390 348h2v1h-2zM394 348h1v1h-1zM396 348h3v1h-3zM400 348h1v1h-1zM482 348h1v1h-1zM504 348h3v1h-3zM515 348h2v1h-2zM520 348h1v1h-1zM524 348h1v1h-1zM526 348h2v1h-2zM530 348h1v1h-1zM533 348h1v1h-1zM539 348h1v1h-1zM544 348h1v1h-1zM553 348h3v1h-3zM574 348h1v1h-1zM590 348h1v1h-1zM595 348h3v1h-3zM600 348h2v1h-2zM604 348h1v1h-1zM606 348h2v1h-2zM615 348h5v1h-5zM130 349h1v1h-1zM148 349h1v1h-1zM150 349h1v1h-1zM160 349h1v1h-1zM172 349h1v1h-1zM230 349h1v1h-1zM233 349h2v1h-2zM250 349h1v1h-1zM296 349h1v1h-1zM298 349h1v1h-1zM314 349h1v1h-1zM319 349h1v1h-1zM322 349h3v1h-3zM347 349h1v1h-1zM354 349h1v1h-1zM356 349h4v1h-4zM362 349h1v1h-1zM364 349h1v1h-1zM366 349h5v1h-5zM373 349h1v1h-1zM375 349h3v1h-3zM379 349h3v1h-3zM383 349h1v1h-1zM385 349h1v1h-1zM389 349h1v1h-1zM392 349h2v1h-2zM512 349h2v1h-2zM515 349h1v1h-1zM519 349h5v1h-5zM532 349h1v1h-1zM541 349h1v1h-1zM543 349h1v1h-1zM545 349h1v1h-1zM573 349h1v1h-1zM578 349h4v1h-4zM586 349h2v1h-2zM589 349h1v1h-1zM595 349h1v1h-1zM598 349h2v1h-2zM602 349h1v1h-1zM604 349h2v1h-2zM608 349h5v1h-5zM618 349h1v1h-1zM623 349h1v1h-1zM144 350h1v1h-1zM150 350h1v1h-1zM159 350h1v1h-1zM205 350h2v1h-2zM233 350h1v1h-1zM296 350h2v1h-2zM301 350h1v1h-1zM303 350h1v1h-1zM325 350h2v1h-2zM365 350h1v1h-1zM374 350h1v1h-1zM377 350h1v1h-1zM382 350h1v1h-1zM390 350h1v1h-1zM514 350h1v1h-1zM522 350h1v1h-1zM525 350h1v1h-1zM532 350h1v1h-1zM538 350h1v1h-1zM540 350h4v1h-4zM552 350h1v1h-1zM580 350h1v1h-1zM589 350h1v1h-1zM597 350h1v1h-1zM599 350h2v1h-2zM602 350h1v1h-1zM608 350h1v1h-1zM611 350h1v1h-1zM613 350h1v1h-1zM619 350h2v1h-2zM622 350h1v1h-1zM231 351h1v1h-1zM297 351h2v1h-2zM300 351h1v1h-1zM302 351h1v1h-1zM326 351h1v1h-1zM542 351h1v1h-1zM585 351h1v1h-1zM596 351h1v1h-1zM603 351h1v1h-1zM607 351h1v1h-1zM621 351h2v1h-2zM144 352h2v1h-2zM232 352h1v1h-1zM255 352h1v1h-1zM299 352h1v1h-1zM301 352h2v1h-2zM373 352h1v1h-1zM586 352h1v1h-1zM230 353h3v1h-3zM294 353h2v1h-2zM392 353h1v1h-1zM595 353h1v1h-1zM293 354h3v1h-3zM290 355h4v1h-4zM289 356h2v1h-2zM292 356h1v1h-1zM289 358h1v1h-1zM288 361h1v1h-1zM286 362h2v1h-2zM286 367h1v1h-1zM278 369h2v1h-2zM279 370h2v1h-2zM285 370h1v1h-1zM278 371h1v1h-1zM285 371h1v1h-1zM281 372h1v1h-1zM281 373h1v1h-1zM284 373h1v1h-1zM282 374h1v1h-1zM283 375h1v1h-1zM282 376h1v1h-1z"/>
<path fill="#0000ff" d="M114 265h1v1h-1zM75 266h1v1h-1zM88 268h1v1h-1zM288 273h1v1h-1zM87 277h1v1h-1zM88 280h1v1h-1zM74 282h1v1h-1zM274 282h1v1h-1zM152 283h1v1h-1zM275 286h1v1h-1zM113 288h1v1h-1zM274 289h1v1h-1zM114 291h1v1h-1zM289 291h1v1h-1zM75 292h1v1h-1zM89 292h1v1h-1zM274 294h1v1h-1zM313 294h1v1h-1zM289 297h1v1h-1zM313 298h1v1h-1zM563 299h1v1h-1zM575 299h1v1h-1zM55 300h1v1h-1zM114 300h1v1h-1zM562 300h1v1h-1zM576 300h1v1h-1zM290 301h1v1h-1zM562 301h3v1h-3zM576 301h1v1h-1zM273 302h1v1h-1zM564 302h2v1h-2zM576 302h1v1h-1zM54 303h1v1h-1zM460 303h1v1h-1zM576 303h1v1h-1zM52 304h1v1h-1zM313 304h1v1h-1zM460 304h1v1h-1zM561 304h1v1h-1zM565 304h1v1h-1zM54 305h1v1h-1zM459 305h1v1h-1zM53 306h3v1h-3zM57 306h1v1h-1zM75 306h1v1h-1zM89 306h1v1h-1zM95 306h1v1h-1zM273 306h1v1h-1zM560 306h1v1h-1zM52 307h2v1h-2zM56 307h1v1h-1zM95 307h1v1h-1zM113 307h1v1h-1zM193 307h1v1h-1zM459 307h1v1h-1zM461 307h1v1h-1zM57 308h3v1h-3zM76 308h1v1h-1zM94 308h1v1h-1zM96 308h1v1h-1zM166 308h1v1h-1zM276 308h1v1h-1zM458 308h1v1h-1zM575 308h1v1h-1zM58 309h1v1h-1zM60 309h1v1h-1zM62 309h1v1h-1zM67 309h1v1h-1zM77 309h1v1h-1zM88 309h1v1h-1zM96 309h1v1h-1zM60 310h1v1h-1zM62 310h1v1h-1zM66 310h2v1h-2zM75 310h1v1h-1zM77 310h1v1h-1zM87 310h1v1h-1zM93 310h2v1h-2zM232 310h1v1h-1zM234 310h1v1h-1zM271 310h1v1h-1zM290 310h1v1h-1zM457 310h2v1h-2zM461 310h1v1h-1zM63 311h3v1h-3zM69 311h1v1h-1zM74 311h2v1h-2zM78 311h1v1h-1zM80 311h2v1h-2zM83 311h2v1h-2zM86 311h1v1h-1zM92 311h1v1h-1zM97 311h1v1h-1zM193 311h1v1h-1zM234 311h1v1h-1zM566 311h1v1h-1zM61 312h1v1h-1zM63 312h2v1h-2zM66 312h1v1h-1zM69 312h1v1h-1zM74 312h1v1h-1zM79 312h1v1h-1zM81 312h2v1h-2zM84 312h3v1h-3zM89 312h1v1h-1zM97 312h2v1h-2zM115 312h2v1h-2zM457 312h1v1h-1zM560 312h1v1h-1zM566 312h1v1h-1zM577 312h1v1h-1zM61 313h1v1h-1zM68 313h1v1h-1zM70 313h1v1h-1zM72 313h2v1h-2zM89 313h2v1h-2zM107 313h1v1h-1zM116 313h4v1h-4zM152 313h1v1h-1zM236 313h1v1h-1zM240 313h1v1h-1zM242 313h1v1h-1zM270 313h1v1h-1zM315 313h1v1h-1zM456 313h1v1h-1zM567 313h1v1h-1zM71 314h1v1h-1zM90 314h3v1h-3zM99 314h2v1h-2zM105 314h1v1h-1zM114 314h2v1h-2zM117 314h5v1h-5zM192 314h1v1h-1zM233 314h1v1h-1zM241 314h1v1h-1zM456 314h1v1h-1zM462 314h1v1h-1zM537 314h1v1h-1zM71 315h2v1h-2zM98 315h1v1h-1zM100 315h6v1h-6zM112 315h1v1h-1zM114 315h1v1h-1zM120 315h5v1h-5zM166 315h1v1h-1zM192 315h2v1h-2zM211 315h1v1h-1zM236 315h1v1h-1zM243 315h1v1h-1zM269 315h1v1h-1zM291 315h1v1h-1zM311 315h1v1h-1zM440 315h2v1h-2zM455 315h1v1h-1zM463 315h1v1h-1zM567 315h1v1h-1zM101 316h2v1h-2zM104 316h1v1h-1zM106 316h2v1h-2zM113 316h1v1h-1zM123 316h1v1h-1zM172 316h1v1h-1zM191 316h1v1h-1zM242 316h1v1h-1zM271 316h1v1h-1zM311 316h2v1h-2zM442 316h1v1h-1zM454 316h1v1h-1zM464 316h1v1h-1zM497 316h1v1h-1zM536 316h1v1h-1zM112 317h2v1h-2zM120 317h1v1h-1zM194 317h1v1h-1zM232 317h1v1h-1zM234 317h1v1h-1zM244 317h1v1h-1zM276 317h1v1h-1zM310 317h1v1h-1zM449 317h3v1h-3zM454 317h1v1h-1zM464 317h1v1h-1zM575 317h1v1h-1zM107 318h1v1h-1zM109 318h1v1h-1zM111 318h1v1h-1zM194 318h1v1h-1zM231 318h2v1h-2zM236 318h1v1h-1zM243 318h2v1h-2zM310 318h1v1h-1zM315 318h1v1h-1zM438 318h2v1h-2zM442 318h2v1h-2zM448 318h1v1h-1zM451 318h3v1h-3zM465 318h1v1h-1zM535 318h1v1h-1zM537 318h1v1h-1zM559 318h1v1h-1zM575 318h1v1h-1zM108 319h5v1h-5zM191 319h1v1h-1zM195 319h1v1h-1zM224 319h1v1h-1zM245 319h1v1h-1zM286 319h1v1h-1zM300 319h2v1h-2zM309 319h1v1h-1zM329 319h3v1h-3zM333 319h2v1h-2zM438 319h1v1h-1zM443 319h2v1h-2zM446 319h1v1h-1zM448 319h1v1h-1zM450 319h1v1h-1zM465 319h2v1h-2zM537 319h1v1h-1zM567 319h1v1h-1zM577 319h1v1h-1zM146 320h1v1h-1zM173 320h2v1h-2zM183 320h1v1h-1zM236 320h1v1h-1zM245 320h1v1h-1zM250 320h3v1h-3zM268 320h1v1h-1zM286 320h1v1h-1zM291 320h1v1h-1zM299 320h1v1h-1zM301 320h2v1h-2zM308 320h1v1h-1zM316 320h1v1h-1zM333 320h1v1h-1zM335 320h1v1h-1zM361 320h1v1h-1zM437 320h1v1h-1zM444 320h2v1h-2zM447 320h1v1h-1zM467 320h1v1h-1zM497 320h1v1h-1zM501 320h1v1h-1zM535 320h1v1h-1zM110 321h1v1h-1zM173 321h1v1h-1zM182 321h1v1h-1zM185 321h1v1h-1zM190 321h1v1h-1zM195 321h1v1h-1zM254 321h1v1h-1zM283 321h1v1h-1zM285 321h1v1h-1zM302 321h2v1h-2zM306 321h2v1h-2zM331 321h2v1h-2zM334 321h3v1h-3zM340 321h1v1h-1zM342 321h1v1h-1zM435 321h1v1h-1zM446 321h2v1h-2zM466 321h2v1h-2zM500 321h1v1h-1zM144 322h2v1h-2zM155 322h2v1h-2zM164 322h2v1h-2zM171 322h2v1h-2zM175 322h1v1h-1zM183 322h4v1h-4zM190 322h1v1h-1zM196 322h1v1h-1zM213 322h2v1h-2zM216 322h1v1h-1zM223 322h1v1h-1zM246 322h3v1h-3zM262 322h1v1h-1zM278 322h2v1h-2zM282 322h1v1h-1zM284 322h2v1h-2zM287 322h1v1h-1zM298 322h4v1h-4zM303 322h5v1h-5zM327 322h2v1h-2zM332 322h1v1h-1zM336 322h6v1h-6zM401 322h1v1h-1zM436 322h2v1h-2zM445 322h1v1h-1zM502 322h1v1h-1zM145 323h1v1h-1zM147 323h1v1h-1zM153 323h3v1h-3zM157 323h1v1h-1zM159 323h1v1h-1zM161 323h1v1h-1zM165 323h4v1h-4zM174 323h3v1h-3zM181 323h1v1h-1zM186 323h2v1h-2zM189 323h1v1h-1zM196 323h1v1h-1zM198 323h1v1h-1zM200 323h1v1h-1zM207 323h1v1h-1zM211 323h2v1h-2zM214 323h2v1h-2zM219 323h2v1h-2zM229 323h1v1h-1zM237 323h1v1h-1zM247 323h1v1h-1zM249 323h2v1h-2zM252 323h3v1h-3zM262 323h3v1h-3zM278 323h1v1h-1zM280 323h2v1h-2zM283 323h1v1h-1zM287 323h1v1h-1zM292 323h1v1h-1zM304 323h2v1h-2zM337 323h3v1h-3zM342 323h2v1h-2zM360 323h2v1h-2zM401 323h3v1h-3zM433 323h1v1h-1zM468 323h1v1h-1zM568 323h1v1h-1zM143 324h1v1h-1zM148 324h1v1h-1zM152 324h2v1h-2zM157 324h1v1h-1zM162 324h2v1h-2zM166 324h2v1h-2zM169 324h3v1h-3zM176 324h7v1h-7zM188 324h1v1h-1zM197 324h1v1h-1zM199 324h1v1h-1zM202 324h1v1h-1zM205 324h1v1h-1zM209 324h5v1h-5zM215 324h4v1h-4zM220 324h1v1h-1zM222 324h2v1h-2zM230 324h1v1h-1zM237 324h1v1h-1zM249 324h1v1h-1zM253 324h1v1h-1zM255 324h2v1h-2zM263 324h1v1h-1zM266 324h2v1h-2zM277 324h1v1h-1zM279 324h1v1h-1zM281 324h1v1h-1zM317 324h1v1h-1zM341 324h1v1h-1zM344 324h1v1h-1zM348 324h1v1h-1zM359 324h1v1h-1zM362 324h1v1h-1zM400 324h1v1h-1zM406 324h1v1h-1zM429 324h1v1h-1zM432 324h1v1h-1zM434 324h2v1h-2zM468 324h2v1h-2zM498 324h1v1h-1zM143 325h1v1h-1zM156 325h1v1h-1zM158 325h1v1h-1zM160 325h4v1h-4zM177 325h4v1h-4zM187 325h1v1h-1zM199 325h4v1h-4zM204 325h1v1h-1zM206 325h5v1h-5zM218 325h1v1h-1zM221 325h1v1h-1zM224 325h2v1h-2zM229 325h1v1h-1zM248 325h1v1h-1zM255 325h7v1h-7zM264 325h2v1h-2zM268 325h1v1h-1zM295 325h1v1h-1zM323 325h1v1h-1zM326 325h2v1h-2zM346 325h1v1h-1zM348 325h2v1h-2zM358 325h2v1h-2zM362 325h1v1h-1zM400 325h1v1h-1zM404 325h2v1h-2zM427 325h7v1h-7zM469 325h3v1h-3zM538 325h1v1h-1zM142 326h1v1h-1zM148 326h1v1h-1zM152 326h1v1h-1zM158 326h3v1h-3zM205 326h2v1h-2zM225 326h1v1h-1zM227 326h1v1h-1zM257 326h1v1h-1zM260 326h1v1h-1zM265 326h2v1h-2zM293 326h1v1h-1zM322 326h3v1h-3zM344 326h4v1h-4zM357 326h2v1h-2zM363 326h1v1h-1zM399 326h1v1h-1zM407 326h2v1h-2zM411 326h1v1h-1zM413 326h3v1h-3zM421 326h1v1h-1zM430 326h2v1h-2zM434 326h1v1h-1zM470 326h3v1h-3zM568 326h2v1h-2zM578 326h1v1h-1zM149 327h3v1h-3zM203 327h1v1h-1zM226 327h1v1h-1zM228 327h1v1h-1zM238 327h1v1h-1zM258 327h2v1h-2zM294 327h1v1h-1zM317 327h1v1h-1zM319 327h1v1h-1zM321 327h1v1h-1zM325 327h1v1h-1zM347 327h1v1h-1zM350 327h1v1h-1zM355 327h1v1h-1zM357 327h1v1h-1zM367 327h5v1h-5zM399 327h1v1h-1zM406 327h1v1h-1zM409 327h2v1h-2zM412 327h2v1h-2zM420 327h1v1h-1zM426 327h3v1h-3zM499 327h1v1h-1zM502 327h1v1h-1zM535 327h1v1h-1zM150 328h1v1h-1zM204 328h1v1h-1zM209 328h1v1h-1zM228 328h1v1h-1zM238 328h1v1h-1zM318 328h2v1h-2zM325 328h1v1h-1zM350 328h1v1h-1zM352 328h3v1h-3zM364 328h3v1h-3zM370 328h1v1h-1zM372 328h3v1h-3zM381 328h1v1h-1zM407 328h1v1h-1zM411 328h2v1h-2zM414 328h1v1h-1zM419 328h1v1h-1zM423 328h1v1h-1zM538 328h1v1h-1zM558 328h2v1h-2zM141 329h1v1h-1zM149 329h1v1h-1zM226 329h2v1h-2zM248 329h1v1h-1zM296 329h1v1h-1zM318 329h1v1h-1zM320 329h1v1h-1zM322 329h1v1h-1zM349 329h1v1h-1zM351 329h2v1h-2zM355 329h2v1h-2zM363 329h1v1h-1zM367 329h1v1h-1zM372 329h1v1h-1zM375 329h2v1h-2zM379 329h1v1h-1zM398 329h1v1h-1zM415 329h1v1h-1zM417 329h2v1h-2zM420 329h1v1h-1zM422 329h3v1h-3zM426 329h1v1h-1zM472 329h3v1h-3zM574 329h1v1h-1zM578 329h1v1h-1zM141 330h2v1h-2zM169 330h1v1h-1zM297 330h1v1h-1zM353 330h2v1h-2zM364 330h1v1h-1zM366 330h1v1h-1zM377 330h2v1h-2zM380 330h3v1h-3zM387 330h2v1h-2zM391 330h1v1h-1zM396 330h1v1h-1zM398 330h1v1h-1zM416 330h1v1h-1zM419 330h1v1h-1zM425 330h1v1h-1zM477 330h1v1h-1zM480 330h1v1h-1zM521 330h1v1h-1zM541 330h1v1h-1zM557 330h1v1h-1zM600 330h1v1h-1zM140 331h1v1h-1zM378 331h2v1h-2zM382 331h1v1h-1zM385 331h5v1h-5zM391 331h1v1h-1zM393 331h3v1h-3zM397 331h1v1h-1zM416 331h2v1h-2zM476 331h1v1h-1zM481 331h1v1h-1zM507 331h1v1h-1zM539 331h1v1h-1zM569 331h2v1h-2zM139 332h2v1h-2zM383 332h2v1h-2zM390 332h1v1h-1zM392 332h1v1h-1zM396 332h1v1h-1zM424 332h1v1h-1zM475 332h2v1h-2zM478 332h2v1h-2zM481 332h2v1h-2zM486 332h1v1h-1zM488 332h1v1h-1zM503 332h2v1h-2zM506 332h1v1h-1zM520 332h1v1h-1zM540 332h2v1h-2zM556 332h2v1h-2zM570 332h2v1h-2zM574 332h1v1h-1zM139 333h1v1h-1zM356 333h1v1h-1zM383 333h2v1h-2zM386 333h1v1h-1zM389 333h2v1h-2zM392 333h1v1h-1zM425 333h1v1h-1zM482 333h2v1h-2zM485 333h2v1h-2zM489 333h2v1h-2zM495 333h1v1h-1zM505 333h1v1h-1zM507 333h1v1h-1zM519 333h1v1h-1zM547 333h2v1h-2zM556 333h1v1h-1zM571 333h1v1h-1zM579 333h1v1h-1zM366 334h1v1h-1zM480 334h1v1h-1zM484 334h1v1h-1zM487 334h2v1h-2zM491 334h4v1h-4zM506 334h1v1h-1zM508 334h1v1h-1zM510 334h1v1h-1zM512 334h1v1h-1zM519 334h2v1h-2zM535 334h1v1h-1zM539 334h4v1h-4zM545 334h3v1h-3zM549 334h2v1h-2zM555 334h1v1h-1zM483 335h1v1h-1zM485 335h1v1h-1zM487 335h1v1h-1zM505 335h1v1h-1zM510 335h2v1h-2zM513 335h1v1h-1zM515 335h1v1h-1zM517 335h2v1h-2zM521 335h1v1h-1zM527 335h1v1h-1zM533 335h2v1h-2zM544 335h1v1h-1zM551 335h1v1h-1zM572 335h2v1h-2zM579 335h1v1h-1zM509 336h1v1h-1zM511 336h2v1h-2zM514 336h2v1h-2zM517 336h1v1h-1zM525 336h1v1h-1zM534 336h1v1h-1zM542 336h1v1h-1zM544 336h2v1h-2zM551 336h2v1h-2zM572 336h2v1h-2zM578 336h1v1h-1zM516 337h1v1h-1zM522 337h5v1h-5zM528 337h1v1h-1zM530 337h4v1h-4zM550 337h1v1h-1zM552 337h2v1h-2zM573 337h1v1h-1zM580 337h1v1h-1zM600 337h1v1h-1zM523 338h1v1h-1zM526 338h1v1h-1zM529 338h2v1h-2zM543 338h1v1h-1zM554 338h1v1h-1zM579 338h1v1h-1zM599 338h2v1h-2zM527 339h2v1h-2zM543 339h1v1h-1zM553 339h1v1h-1zM580 339h1v1h-1zM586 339h1v1h-1zM591 339h1v1h-1zM599 339h1v1h-1zM615 339h1v1h-1zM619 339h1v1h-1zM138 340h1v1h-1zM553 340h1v1h-1zM587 340h2v1h-2zM593 340h1v1h-1zM598 340h1v1h-1zM601 340h1v1h-1zM581 341h1v1h-1zM585 341h1v1h-1zM594 341h1v1h-1zM597 341h1v1h-1zM607 341h1v1h-1zM611 341h1v1h-1zM581 342h5v1h-5zM590 342h3v1h-3zM596 342h1v1h-1zM601 342h2v1h-2zM604 342h1v1h-1zM607 342h3v1h-3zM619 342h1v1h-1zM582 343h3v1h-3zM589 343h1v1h-1zM593 343h1v1h-1zM595 343h3v1h-3zM603 343h1v1h-1zM608 343h4v1h-4zM615 343h2v1h-2zM619 343h2v1h-2zM138 344h1v1h-1zM589 344h1v1h-1zM594 344h2v1h-2zM602 344h1v1h-1zM604 344h3v1h-3zM614 344h3v1h-3zM618 344h1v1h-1zM138 345h1v1h-1zM603 345h1v1h-1zM614 345h1v1h-1zM617 345h1v1h-1zM620 345h2v1h-2zM612 346h1v1h-1zM618 346h1v1h-1zM613 347h1v1h-1zM622 347h1v1h-1zM622 348h1v1h-1zM137 349h1v1h-1zM137 353h1v1h-1zM137 366h1v1h-1zM136 382h1v1h-1z"/>
</g>
<g font-family="'Liberation Sans', sans-serif" fill="#000" stroke="#000" stroke-width="0">
<text y="19.5" font-size="12.3" stroke-width="0"><tspan x="157.6" textLength="31.6" lengthAdjust="spacingAndGlyphs">GOES</tspan> <tspan x="196.4" textLength="68.0" lengthAdjust="spacingAndGlyphs">0.1−0.8nm</tspan> <tspan x="271.6" textLength="34.0" lengthAdjust="spacingAndGlyphs">(red),</tspan> <tspan x="312.4" textLength="28.6" lengthAdjust="spacingAndGlyphs">LYRA</tspan> <tspan x="347" textLength="10.6" lengthAdjust="spacingAndGlyphs">Al</tspan> <tspan x="364.6" textLength="34.4" lengthAdjust="spacingAndGlyphs">(blue)</tspan> <tspan x="407.9">&amp;</tspan> <tspan x="424" textLength="13" lengthAdjust="spacingAndGlyphs">Zr</tspan> <tspan x="444" textLength="35" lengthAdjust="spacingAndGlyphs">(grey)</tspan> <tspan x="486.6" textLength="32.4" lengthAdjust="spacingAndGlyphs">proxy</tspan></text>
<text y="470.3" font-size="10" stroke-width="0.15"><tspan x="266.4" textLength="22.2" lengthAdjust="spacingAndGlyphs">Time</tspan> <tspan x="295.6">/</tspan> <tspan x="306.7">h</tspan> <tspan x="317.9" textLength="20.9" lengthAdjust="spacingAndGlyphs">UTC,</tspan> <tspan x="344.2" textLength="12.3" lengthAdjust="spacingAndGlyphs">08</tspan> <tspan x="362.2" textLength="16.5" lengthAdjust="spacingAndGlyphs">Sep</tspan> <tspan x="385" textLength="24.7" lengthAdjust="spacingAndGlyphs">2015</tspan></text>
<text y="495" font-size="11" stroke-width="0"><tspan x="488.8" textLength="54.6" lengthAdjust="spacingAndGlyphs">ROB/SIDC,</tspan> <tspan x="549.8" textLength="46.2" lengthAdjust="spacingAndGlyphs">Brussels,</tspan> <tspan x="602.4" textLength="39.8" lengthAdjust="spacingAndGlyphs">Belgium</tspan></text>
<text x="52.2" y="458.2" font-size="10.3" stroke-width="0.15" text-anchor="middle">0</text>
<text x="171.4" y="458.2" font-size="10.3" stroke-width="0.15" text-anchor="middle">5</text>
<text x="290.5" y="458.2" font-size="10.3" stroke-width="0.15" text-anchor="middle">10</text>
<text x="409.7" y="458.2" font-size="10.3" stroke-width="0.15" text-anchor="middle">15</text>
<text x="528.9" y="458.2" font-size="10.3" stroke-width="0.15" text-anchor="middle">20</text>
<text x="631.5" y="80.0" font-size="10" stroke-width="0.15">M</text>
<text x="631.5" y="185.0" font-size="10" stroke-width="0.15">C</text>
<text x="631.5" y="290.0" font-size="10" stroke-width="0.15">B</text>
<text x="631.5" y="395.0" font-size="10" stroke-width="0.15">A</text>
<text y="30" font-size="8.4" stroke-width="0.25"><tspan x="33.8" textLength="8.2" lengthAdjust="spacingAndGlyphs">10</tspan><tspan x="43" dy="-4" font-size="5.8" stroke-width="0.3" textLength="7" lengthAdjust="spacingAndGlyphs">−4</tspan></text>
<text y="133" font-size="8.4" stroke-width="0.25"><tspan x="33.8" textLength="8.2" lengthAdjust="spacingAndGlyphs">10</tspan><tspan x="43" dy="-4" font-size="5.8" stroke-width="0.3" textLength="7" lengthAdjust="spacingAndGlyphs">−5</tspan></text>
<text y="238" font-size="8.4" stroke-width="0.25"><tspan x="33.8" textLength="8.2" lengthAdjust="spacingAndGlyphs">10</tspan><tspan x="43" dy="-4" font-size="5.8" stroke-width="0.3" textLength="7" lengthAdjust="spacingAndGlyphs">−6</tspan></text>
<text y="343" font-size="8.4" stroke-width="0.25"><tspan x="33.8" textLength="8.2" lengthAdjust="spacingAndGlyphs">10</tspan><tspan x="43" dy="-4" font-size="5.8" stroke-width="0.3" textLength="7" lengthAdjust="spacingAndGlyphs">−7</tspan></text>
<text y="445" font-size="8.4" stroke-width="0.25"><tspan x="33.8" textLength="8.2" lengthAdjust="spacingAndGlyphs">10</tspan><tspan x="43" dy="-4" font-size="5.8" stroke-width="0.3" textLength="7" lengthAdjust="spacingAndGlyphs">−8</tspan></text>
<g transform="translate(26.3,289.5) rotate(-90)">
<text y="0" font-size="9" stroke-width="0.2"><tspan x="0.5" textLength="20.5" lengthAdjust="spacingAndGlyphs">GOES</tspan> <tspan x="25.3" textLength="38.3" lengthAdjust="spacingAndGlyphs">Irradiance</tspan> <tspan x="69.2">/</tspan> <tspan x="77.9" textLength="9.9" lengthAdjust="spacingAndGlyphs">(W</tspan> <tspan x="91.5">m</tspan><tspan x="98.6" dy="-4.6" font-size="5.8" stroke-width="0.3" textLength="6.6" lengthAdjust="spacingAndGlyphs">−2</tspan><tspan x="106" dy="4.6">)</tspan></text>
</g>
</g>
</svg>
</body></html>
